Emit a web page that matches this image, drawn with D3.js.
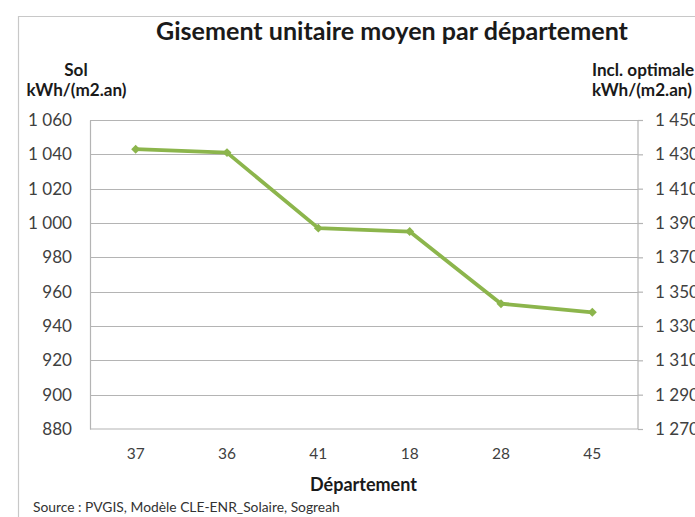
<!DOCTYPE html>
<html>
<head>
<meta charset="utf-8">
<script src="https://cdn.jsdelivr.net/npm/d3@7"></script>
<style>
  html, body { margin: 0; padding: 0; background: #fff; }
  svg { display: block; }
  text { font-family: Lato, "Open Sans", sans-serif; }
</style>
</head>
<body>
<svg id="chart" width="695" height="517"></svg>
<script>
// Gisement solaire moyen (kWh/m².an) par département
const departements = ["37", "36", "41", "18", "28", "45"];
const gisementSol = [1043, 1041, 997, 995, 953, 948];
const solTicks = [880, 900, 920, 940, 960, 980, 1000, 1020, 1040, 1060];
const optTicks = [1270, 1290, 1310, 1330, 1350, 1370, 1390, 1410, 1430, 1450];

const titre = "Gisement unitaire moyen par département";
const titreGauche = ["Sol", "kWh/(m2.an)"];
const titreDroite = ["Incl. optimale", "kWh/(m2.an)"];
const titreX = "Département";
const source = "Source : PVGIS, Modèle CLE-ENR_Solaire, Sogreah";

const W = 695, H = 517;
const plot = { left: 90, right: 638, top: 120, bottom: 429 };
const green = "#8cb54c";
const gridColor = "#b4b4b4";
const textColor = "#404040";

const svg = d3.select("#chart");

// scale a text's font size so that it spans the given width
function fitWidth(sel, width) {
  const node = sel.node();
  const fs = parseFloat(sel.attr("font-size"));
  const len = node.getComputedTextLength();
  const nfs = fs * width / len;
  sel.attr("font-size", nfs);
  return nfs;
}
function sizeFor(str, width, weight) {
  const t = svg.append("text").attr("font-size", 20).attr("font-weight", weight).text(str);
  const s = fitWidth(t, width);
  t.remove();
  return s;
}

// outer frame
svg.append("path")
  .attr("d", `M18.5,${H + 2} L18.5,16.5 L${W + 2},16.5`)
  .attr("fill", "none").attr("stroke", "#c8c8c8").attr("stroke-width", 1.2);

const x = d3.scaleBand().domain(departements).range([plot.left, plot.right]);
const yL = d3.scaleLinear().domain([880, 1060]).range([plot.bottom, plot.top]);
const yR = d3.scaleLinear().domain([1270, 1450]).range([plot.bottom, plot.top]);

const fmtTick = d => d3.format(",")(d).replace(",", " ");
const tickSize = sizeFor("1 060", 44, 400);

// horizontal gridlines
svg.append("g")
  .selectAll("line").data(solTicks.slice(1)).join("line")
  .attr("x1", plot.left).attr("x2", plot.right)
  .attr("y1", d => Math.round(yL(d)) + 0.5).attr("y2", d => Math.round(yL(d)) + 0.5)
  .attr("stroke", gridColor).attr("stroke-width", 1.2);

// left axis
const gL = svg.append("g").attr("transform", `translate(${plot.left},0)`)
  .call(d3.axisLeft(yL).tickValues(solTicks).tickSize(0).tickPadding(18).tickFormat(fmtTick));
gL.select(".domain").attr("stroke", gridColor).attr("stroke-width", 1.2);
gL.selectAll("text").attr("font-size", tickSize).attr("fill", textColor)
  .attr("font-family", "Lato, 'Open Sans', sans-serif");

// right axis
const gR = svg.append("g").attr("transform", `translate(${plot.right},0)`)
  .call(d3.axisRight(yR).tickValues(optTicks).tickSize(5).tickPadding(12).tickFormat(fmtTick));
gR.select(".domain").attr("stroke", gridColor).attr("stroke-width", 1.2).attr("d", `M0,${plot.top}V${plot.bottom}`);
gR.selectAll("line").attr("stroke", gridColor).attr("stroke-width", 1.2);
gR.selectAll("text").attr("font-size", tickSize).attr("fill", textColor)
  .attr("font-family", "Lato, 'Open Sans', sans-serif");

// bottom axis
const xSize = sizeFor("37", 18, 400);
const gX = svg.append("g").attr("transform", `translate(0,${plot.bottom})`)
  .call(d3.axisBottom(x).tickSize(0).tickPadding(19));
gX.select(".domain").attr("stroke", gridColor).attr("stroke-width", 1.2).attr("d", `M${plot.left},0H${plot.right}`);
gX.selectAll("text").attr("font-size", xSize).attr("fill", textColor)
  .attr("font-family", "Lato, 'Open Sans', sans-serif");

// series line and diamond markers
const cx = d => x(d) + x.bandwidth() / 2;
const pts = departements.map((d, i) => [cx(d), yL(gisementSol[i])]);
svg.append("path")
  .attr("d", d3.line()(pts))
  .attr("fill", "none").attr("stroke", green).attr("stroke-width", 3.8)
  .attr("stroke-linejoin", "round").attr("stroke-linecap", "round");
svg.append("g").selectAll("path").data(pts).join("path")
  .attr("transform", d => `translate(${d[0]},${d[1]}) rotate(45)`)
  .attr("d", d3.symbol(d3.symbolSquare, 40)())
  .attr("fill", green);

// title
const title = svg.append("text").attr("x", 392).attr("y", 40)
  .attr("text-anchor", "middle").attr("font-weight", 700).attr("font-size", 24)
  .attr("fill", "#1a1a1a").text(titre);
fitWidth(title, 472);

// axis titles
const unitSize = sizeFor(titreGauche[1], 100, 700);
svg.append("text").attr("x", 76).attr("y", 76).attr("text-anchor", "middle")
  .attr("font-weight", 700).attr("font-size", unitSize).attr("fill", "#1a1a1a").text(titreGauche[0]);
svg.append("text").attr("x", 76.5).attr("y", 96).attr("text-anchor", "middle")
  .attr("font-weight", 700).attr("font-size", unitSize).attr("fill", "#1a1a1a").text(titreGauche[1]);
svg.append("text").attr("x", 592).attr("y", 75.5).attr("text-anchor", "start")
  .attr("font-weight", 700).attr("font-size", unitSize).attr("fill", "#1a1a1a").text(titreDroite[0]);
svg.append("text").attr("x", 592).attr("y", 96).attr("text-anchor", "start")
  .attr("font-weight", 700).attr("font-size", unitSize).attr("fill", "#1a1a1a").text(titreDroite[1]);

const xt = svg.append("text").attr("x", 363.5).attr("y", 491).attr("text-anchor", "middle")
  .attr("font-weight", 700).attr("font-size", 16).attr("fill", "#1a1a1a").text(titreX);
fitWidth(xt, 107);

const src = svg.append("text").attr("x", 33).attr("y", 512)
  .attr("font-size", 13).attr("fill", "#333").text(source);
fitWidth(src, 307);
</script>
</body>
</html>
